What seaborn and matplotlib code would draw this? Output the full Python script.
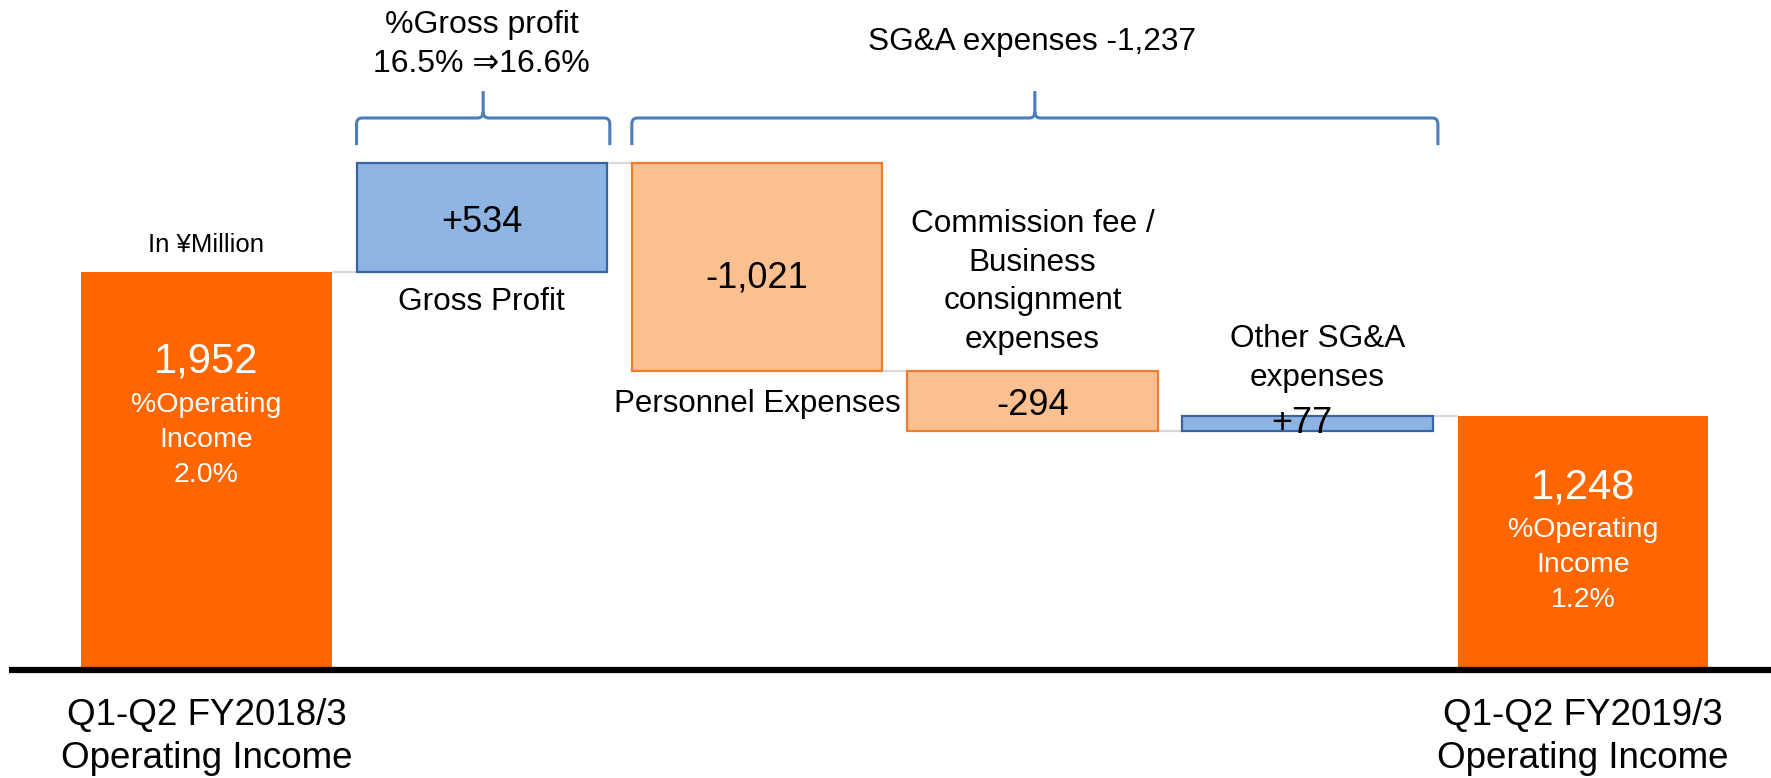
import numpy as np
import pandas as pd
import matplotlib
matplotlib.use("Agg")
import matplotlib.pyplot as plt
from matplotlib.path import Path
from matplotlib.patches import PathPatch
import seaborn as sns

# ---------------- data ----------------
steps = ["FY2018/3", "Gross Profit", "Personnel Expenses",
         "Commission fee", "Other SG&A", "FY2019/3"]
values = [1952, 534, -1021, -294, 77, 1248]
kinds = ["total", "delta", "delta", "delta", "delta", "total"]

value_labels = ["1,952", "+534", "-1,021", "-294", "+77", "1,248"]
ratio_labels = ["%Operating\nIncome\n2.0%", None, None, None, None,
                "%Operating\nIncome\n1.2%"]
step_captions = [None, "Gross Profit", "Personnel Expenses",
                 "Commission fee /\nBusiness\nconsignment\nexpenses",
                 "Other SG&A\nexpenses", None]
axis_labels = ["Q1-Q2 FY2018/3\nOperating Income", "", "", "", "",
               "Q1-Q2 FY2019/3\nOperating Income"]
gross_note = "%Gross profit\n16.5% \u21d216.6%"
sga_note = "SG&A expenses -1,237"
unit_note = "In \u00a5Million"

# ---------------- waterfall geometry from data ----------------
bottoms, tops, running = [], [], 0
for v, k in zip(values, kinds):
    if k == "total":
        b = 0
        running = v
    else:
        b = running
        running += v
    bottoms.append(b)
    tops.append(b + v)

df = pd.DataFrame({"step": steps, "value": values, "bottom": bottoms, "kind": kinds})

# ---------------- style ----------------
sns.set_style("white")
plt.rcParams["font.family"] = ["Liberation Sans", "DejaVu Sans"]

ORANGE = "#FF6600"
POS_FACE, POS_EDGE = "#8EB4E3", "#3A64A0"
NEG_FACE, NEG_EDGE = "#FAC090", "#ED7D31"
BRACE = "#4A7EBB"
CONNECT = "#D9D9D9"

fig = plt.figure(figsize=(17.71, 7.78), dpi=100)
ax = fig.add_axes([9 / 1771, 108 / 778, 1762 / 1771, 670 / 778])

W = 0.91
for i, row in df.iterrows():
    if row.kind == "total":
        face, edge, lw = ORANGE, ORANGE, 0.0
    elif row.value >= 0:
        face, edge, lw = POS_FACE, POS_EDGE, 1.6
    else:
        face, edge, lw = NEG_FACE, NEG_EDGE, 1.6
    sns.barplot(x=[row.step], y=[row.value], order=steps, bottom=row.bottom,
                width=W, color=face, edgecolor=edge, linewidth=lw,
                saturation=1, errorbar=None, ax=ax, zorder=2)

# connectors between consecutive bars at the running total
for i in range(len(steps) - 1):
    lvl = tops[i]
    ax.plot([i + W / 2, i + 1 - W / 2], [lvl, lvl], color=CONNECT, lw=1.6, zorder=1,
            solid_capstyle="butt")

# axes cosmetics
ax.set_xlim(-0.7174, 5.683)
ax.set_ylim(0, 3288)
ax.set_xticks([])
ax.set_yticks([])
ax.set_xlabel("")
ax.set_ylabel("")
for s in ["left", "right", "top"]:
    ax.spines[s].set_visible(False)
ax.spines["bottom"].set_linewidth(4.5)
ax.spines["bottom"].set_color("black")
ax.spines["bottom"].set_capstyle("butt")
ax.spines["bottom"].set_zorder(3)


def put(x, y, text, size, step_pt=0, color="black"):
    for k, line in enumerate(text.split("\n")):
        ax.annotate(line, (x, y), xytext=(0, -k * step_pt), textcoords="offset points",
                    ha="center", va="baseline", fontsize=size, color=color,
                    annotation_clip=False, zorder=5)


# braces
def brace(x0, x1, y_end, y_line, y_tip):
    rx, ry = 0.02, 30
    xm = (x0 + x1) / 2
    verts = [(x0, y_end), (x0, y_line - ry), (x0, y_line), (x0 + rx, y_line),
             (xm - rx, y_line), (xm, y_line), (xm, y_line + ry), (xm, y_tip),
             (x1, y_end), (x1, y_line - ry), (x1, y_line), (x1 - rx, y_line),
             (xm + rx, y_line), (xm, y_line), (xm, y_line + ry)]
    codes = [Path.MOVETO, Path.LINETO, Path.CURVE3, Path.CURVE3,
             Path.LINETO, Path.CURVE3, Path.CURVE3, Path.LINETO,
             Path.MOVETO, Path.LINETO, Path.CURVE3, Path.CURVE3,
             Path.LINETO, Path.CURVE3, Path.CURVE3]
    ax.add_patch(PathPatch(Path(verts, codes), facecolor="none", edgecolor=BRACE,
                           lw=2.2, clip_on=False, zorder=4))


brace(1 - W / 2, 1 + W / 2 + 0.01, 2576, 2709, 2841)
brace(2 - W / 2, 4 + W / 2 + 0.018, 2576, 2709, 2841)

# notes
put(1, 3126, gross_note, 23, 28)
put(3, 3042, sga_note, 22.7)
put(0, tops[0] + 99, unit_note, 18.5)

# value labels inside bars
put(1, 2149, value_labels[1], 26)
put(2, 1879, value_labels[2], 26)
put(3, 1251, value_labels[3], 26)
put(3.98, 1163, value_labels[4], 26)
put(0, 1462, value_labels[0], 30, color="white")
put(5, 844, value_labels[5], 30, color="white")
put(0, 1266, ratio_labels[0], 20.5, 25.2, color="white")
put(5, 653, ratio_labels[5], 20.5, 25.2, color="white")

# step captions
put(1, 1769, step_captions[1], 22.7)
put(2, 1266, step_captions[2], 22.5)
put(3, 2149, step_captions[3], 22.7, 27.7)
put(4.036, 1585, step_captions[4], 22.7, 28)

# category labels under the axis
put(0, -270, axis_labels[0], 26.5, 31)
put(5, -270, axis_labels[5], 26.5, 31)

fig.savefig("out.png", dpi=100, facecolor="white")
